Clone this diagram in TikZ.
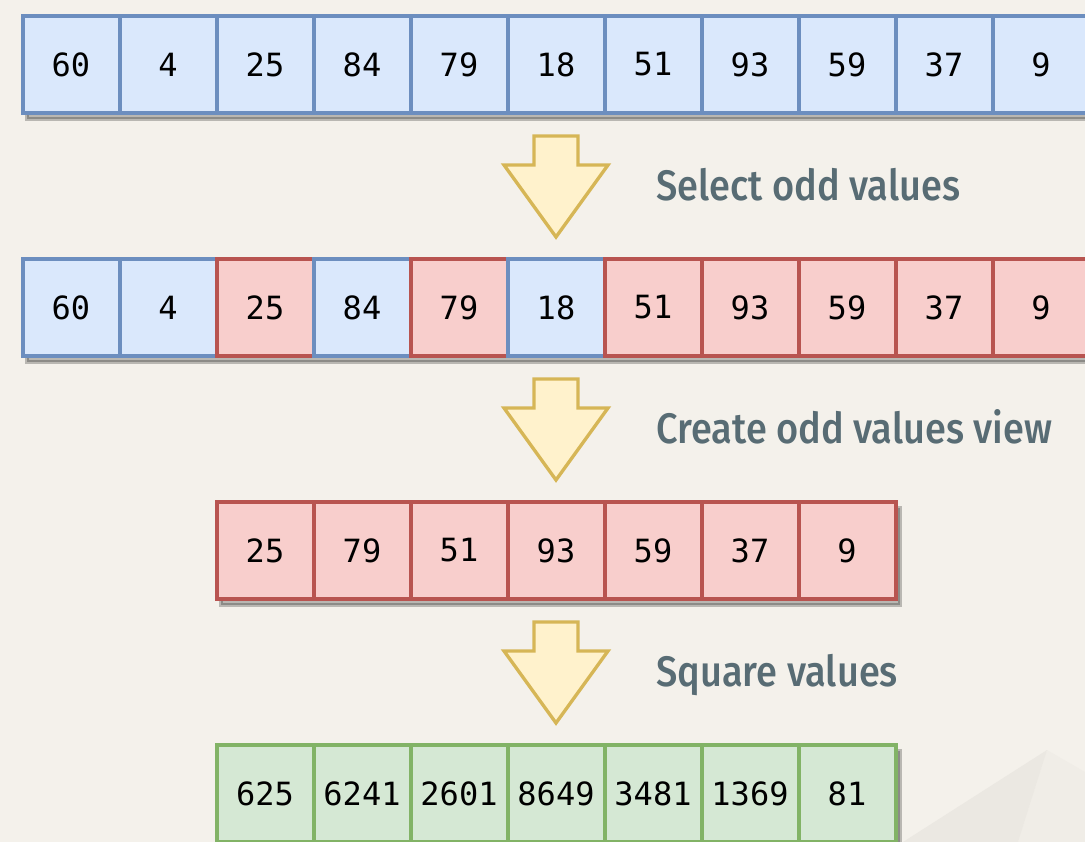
\documentclass[tikz,border=0pt]{standalone}
\usepackage{fontspec}
\usetikzlibrary{calc}
\newfontfamily\cellfont{DejaVu Sans Mono}
\newfontfamily\lblfont{Fira Sans}[UprightFont={* Medium}, FakeStretch=0.89]
\definecolor{bgc}{RGB}{244,241,235}
\definecolor{facetA}{RGB}{235,232,226}
\definecolor{facetB}{RGB}{240,237,231}
\definecolor{blueF}{HTML}{DAE8FC}\definecolor{blueD}{HTML}{6C8EBF}
\definecolor{redF}{HTML}{F8CECC}\definecolor{redD}{HTML}{B85450}
\definecolor{greenF}{HTML}{D5E8D4}\definecolor{greenD}{HTML}{82B366}
\definecolor{yelF}{HTML}{FFF2CC}\definecolor{yelD}{HTML}{D6B656}
\definecolor{lblC}{RGB}{88,108,116}
\pgfdeclarelayer{back}
\pgfsetlayers{back,main}
\tikzset{
  cell/.style={draw, line width=3pt, minimum width=72.75pt, minimum height=72.75pt,
    inner sep=0pt, outer sep=0pt, text=black, font=\cellfont\fontsize{24}{24}\selectfont},
  bluecell/.style={cell, fill=blueF, draw=blueD},
  redcell/.style={cell, fill=redF, draw=redD},
  greencell/.style={cell, fill=greenF, draw=greenD},
  rowshadow/.style={fill=black, draw=black, line width=3pt, opacity=0.24},
  blockarrow/.style={fill=yelF, draw=yelD, line width=2.5pt, line join=miter},
  lbl/.style={anchor=base west, inner sep=0pt, text=lblC, font=\lblfont\fontsize{32}{32}\selectfont},
}
\begin{document}
\begin{tikzpicture}[x=0.75pt,y=-0.75pt]
\useasboundingbox (0,0) rectangle (1085,842);
\clip (0,0) rectangle (1085,842);
\begin{pgfonlayer}{back}
  \fill[bgc] (0,0) rectangle (1085,842);
  % faint facets in the lower right corner
  \fill[facetB] (1047,750) -- (1085,772) -- (1085,842) -- (1018,842) -- cycle;
  \fill[facetA] (903,842) -- (1047,750) -- (1018,842) -- cycle;
\end{pgfonlayer}

% row 1: the input values
\foreach \v [count=\i from 0] in {60,4,25,84,79,18,51,93,59,37,9}
  \node[bluecell, anchor=north west] (a\i) at ({22.5+97*\i},16) {\v};

% row 2: odd values marked
\foreach \v/\s [count=\i from 0] in {60/bluecell,4/bluecell,25/redcell,84/bluecell,79/redcell,18/bluecell,51/redcell,93/redcell,59/redcell,37/redcell,9/redcell}
  \node[\s, anchor=north west] (b\i) at ({22.5+97*\i},259) {\v};

% row 3: the odd values view
\foreach \v [count=\i from 0] in {25,79,51,93,59,37,9}
  \node[redcell, anchor=north west] (c\i) at ({216.5+97*\i},502) {\v};

% row 4: squared values
\foreach \v [count=\i from 0] in {625,6241,2601,8649,3481,1369,81}
  \node[greencell, anchor=north west] (d\i) at ({216.5+97*\i},745) {\v};

% drop shadows under each row
\begin{pgfonlayer}{back}
  \foreach \r/\n in {a/10,b/10,c/6,d/6}
    \filldraw[rowshadow] ($(\r0.north west)+(4,6)$) rectangle ($(\r\n.south east)+(4,6)$);
\end{pgfonlayer}

% block arrows between rows
\foreach \t in {136,379,622}
  \draw[blockarrow] (534,\t) -- (578,\t) -- (578,\t+29) -- (608,\t+29)
    -- (556,\t+101) -- (504,\t+29) -- (534,\t+29) -- cycle;

% step labels
\node[lbl] (l1) at (656,200) {Select odd values};
\node[lbl] (l2) at (656,443) {Create odd values view};
\node[lbl] (l3) at (656,686) {Square values};
\end{tikzpicture}
\end{document}
